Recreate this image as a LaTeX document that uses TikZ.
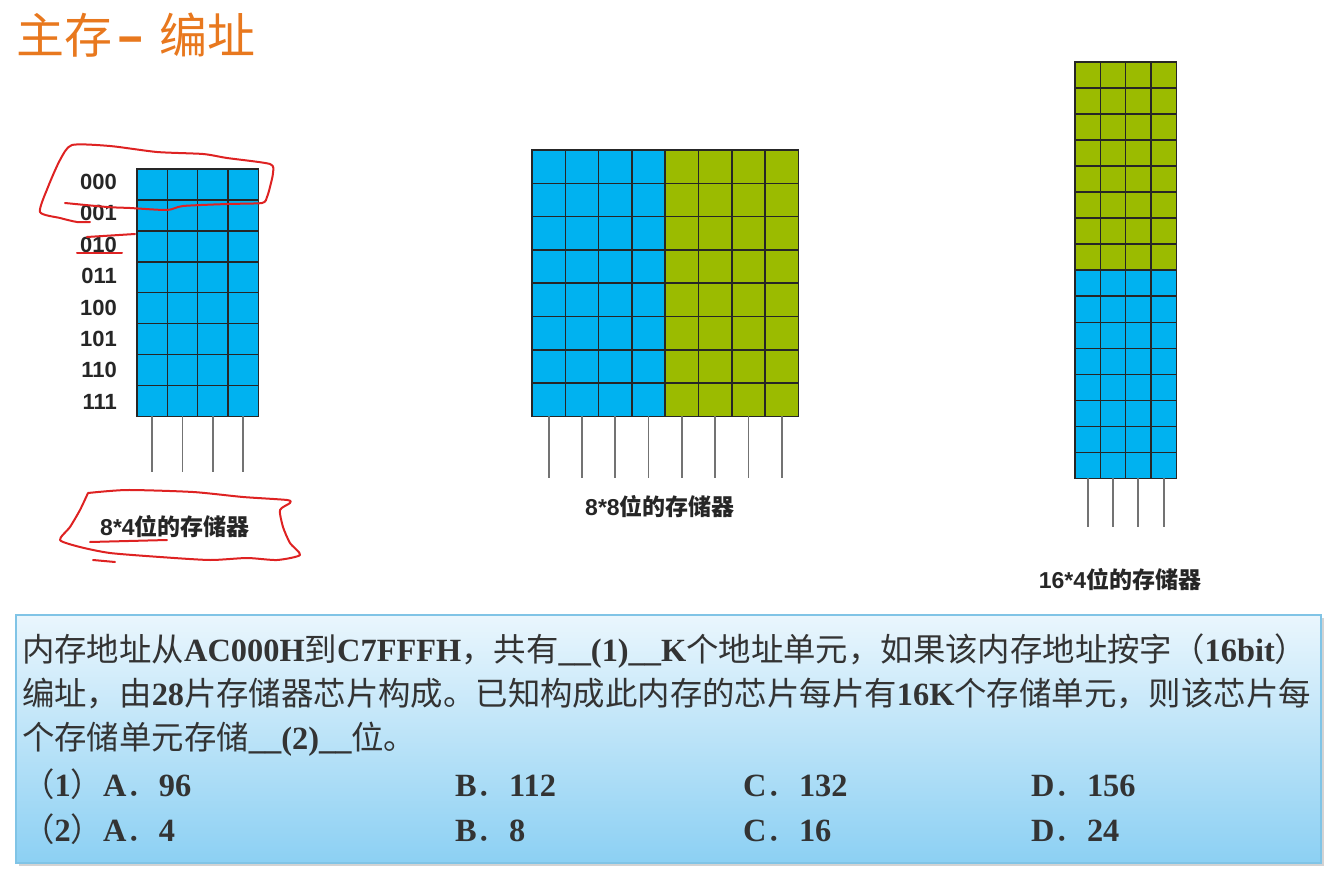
\documentclass[tikz,border=0pt]{standalone}
\usepackage{fontspec}
\setmainfont{Liberation Serif}
\setsansfont{Liberation Sans}
\newfontfamily\cjk{Noto Sans CJK SC}
\usetikzlibrary{calc,shadows}

\definecolor{memblue}{RGB}{0,178,240}
\definecolor{memgreen}{RGB}{155,187,0}
\definecolor{titleorange}{RGB}{232,120,30}
\definecolor{inkred}{RGB}{222,34,34}
\definecolor{boxtop}{RGB}{234,246,253}
\definecolor{boxbottom}{RGB}{140,208,243}
\definecolor{boxline}{RGB}{128,196,230}

\newcommand{\zh}[1]{{\cjk\mdseries #1}}
\newcommand{\zhb}[1]{{\cjk\bfseries #1}}

\tikzstyle{cell} = [draw=black!85, line width=1.5pt]
\tikzstyle{pin} = [draw=black!55, line width=1.8pt]
\tikzstyle{ink} = [draw=inkred, line width=2pt, line cap=round, line join=round]
\tikzstyle{addr} = [font=\fontsize{22}{22}\sffamily\bfseries, text=black!85, anchor=east]
\tikzstyle{caption} = [font=\fontsize{23}{23}\sffamily\bfseries, text=black!85]
\tikzstyle{qtext} = [font=\fontsize{32.4}{32.4}\selectfont\bfseries, text=black!80, anchor=base west]

\begin{document}
\begin{tikzpicture}[
	x = 1pt, y = -1pt,
	every node/.style = {
	inner sep = 0pt
	}
	]

	\useasboundingbox (0,0) rectangle (1331,872);

	% title
	\node[anchor=west, text=titleorange, font=\fontsize{48}{48}\selectfont\cjk] (title) at (16,35) {主存\hspace{5pt}{\bfseries –}\hspace{16pt}编址};

	% 8*4 memory
	\node[anchor=north west, fill=memblue, minimum width=121pt, minimum height=247pt] (mem84) at (137,169) {};
	\foreach \i in {1,...,7}
		\draw[cell] ($(mem84.north west)!\i/8!(mem84.south west)$) -- ($(mem84.north east)!\i/8!(mem84.south east)$);
	\foreach \i in {1,2,3}
		\draw[cell] ($(mem84.north west)!\i/4!(mem84.north east)$) -- ($(mem84.south west)!\i/4!(mem84.south east)$);
	\draw[cell] (mem84.north west) rectangle (mem84.south east);
	\foreach \i in {1,...,4}
		\draw[pin] ($(mem84.south west)!\i/4-0.125!(mem84.south east)$) -- ++(0,56);

	\foreach \a [count=\i from 0] in {000,001,010,011,100,101,110,111}
		\node[addr] (addr\a) at (117,182+31.4*\i) {\a};

	\node[caption] (cap84) at (175,527) {8*4\zhb{位的存储器}};

	% 8*8 memory
	\node[anchor=north west, minimum width=266pt, minimum height=266pt] (mem88) at (532,150) {};
	\fill[memblue] (mem88.north west) rectangle (mem88.south);
	\fill[memgreen] (mem88.north) rectangle (mem88.south east);
	\foreach \i in {1,...,7} {
		\draw[cell] ($(mem88.north west)!\i/8!(mem88.south west)$) -- ($(mem88.north east)!\i/8!(mem88.south east)$);
		\draw[cell] ($(mem88.north west)!\i/8!(mem88.north east)$) -- ($(mem88.south west)!\i/8!(mem88.south east)$);
	}
	\draw[cell] (mem88.north west) rectangle (mem88.south east);
	\foreach \i in {1,...,8}
		\draw[pin] ($(mem88.south west)!\i/8-0.0625!(mem88.south east)$) -- ++(0,62);

	\node[caption] (cap88) at (660,507) {8*8\zhb{位的存储器}};

	% 16*4 memory
	\node[anchor=north west, minimum width=101pt, minimum height=416pt] (mem164) at (1075,62) {};
	\fill[memgreen] (mem164.north west) rectangle (mem164.east);
	\fill[memblue] (mem164.west) rectangle (mem164.south east);
	\foreach \i in {1,...,15}
		\draw[cell] ($(mem164.north west)!\i/16!(mem164.south west)$) -- ($(mem164.north east)!\i/16!(mem164.south east)$);
	\foreach \i in {1,2,3}
		\draw[cell] ($(mem164.north west)!\i/4!(mem164.north east)$) -- ($(mem164.south west)!\i/4!(mem164.south east)$);
	\draw[cell] (mem164.north west) rectangle (mem164.south east);
	\foreach \i in {1,...,4}
		\draw[pin] ($(mem164.south west)!\i/4-0.125!(mem164.south east)$) -- ++(0,49);

	\node[caption] (cap164) at (1120,580) {16*4\zhb{位的存储器}};

	% red marks
	\draw[ink] plot[smooth, tension=0.4] coordinates {(90,222) (77,222) (60,218) (40,212) (48,187) (60,160) (72,145) (110,146) (157,152) (203,154) (227,158) (270,164) (273,173) (270,187) (267,197) (262,203) (227,204) (183,206) (167,210) (130,208) (107,207) (65,203)};
	\draw[ink] (87,237) -- (135,234);
	\draw[ink] (77,253) -- (122,253);
	\draw[ink] plot[smooth, tension=0.4] coordinates {(88,493) (127,490) (193,492) (243,497) (287,500) (290,503) (280,510) (283,527) (290,543) (300,555) (277,560) (247,558) (210,560) (160,557) (110,553) (80,547) (60,540) (70,527) (80,510) (88,493)};
	\draw[ink] (90,542) -- (167,540);
	\draw[ink] (93,560) -- (115,562);

	% question box
	\node[anchor=north west, minimum width=1305pt, minimum height=248pt, draw=boxline, line width=1.5pt, top color=boxtop, bottom color=boxbottom, drop shadow={shadow xshift=3pt, shadow yshift=-3pt, opacity=0.35}] (quiz) at (15,614) {};

	\node[qtext] (q1) at (22,661) {\zh{内存地址从}AC000H\zh{到}C7FFFH\zh{，共有}\_\_(1)\_\_K\zh{个地址单元，如果该内存地址按字（}16bit\zh{）}};
	\node[qtext] (q2) at (22,705) {\zh{编址，由}28\zh{片存储器芯片构成。已知构成此内存的芯片每片有}16K\zh{个存储单元，则该芯片每}};
	\node[qtext] (q3) at (22,749) {\zh{个存储单元存储}\_\_(2)\_\_\zh{位。}};

	\node[qtext] (o1a) at (22,796) {\zh{（}1\zh{）}A\zh{．}96};
	\node[qtext] (o1b) at (455,796) {B\zh{．}112};
	\node[qtext] (o1c) at (743,796) {C\zh{．}132};
	\node[qtext] (o1d) at (1031,796) {D\zh{．}156};
	\node[qtext] (o2a) at (22,841) {\zh{（}2\zh{）}A\zh{．}4};
	\node[qtext] (o2b) at (455,841) {B\zh{．}8};
	\node[qtext] (o2c) at (743,841) {C\zh{．}16};
	\node[qtext] (o2d) at (1031,841) {D\zh{．}24};
\end{tikzpicture}
\end{document}
